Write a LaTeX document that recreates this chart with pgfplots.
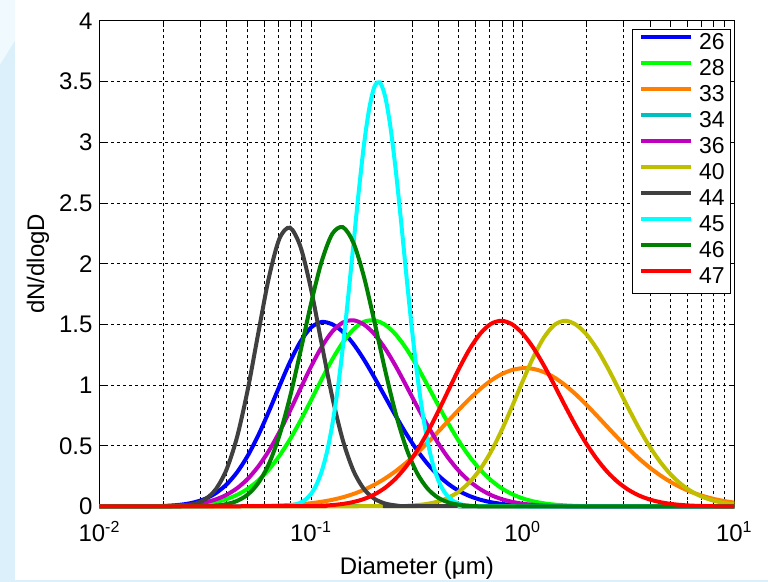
\documentclass[border=0pt]{standalone}
\usepackage{fontspec}
\setmainfont{Liberation Sans}
\usepackage{pgfplots}
\pgfplotsset{compat=1.18}
\definecolor{bgblue}{RGB}{220,240,251}
\definecolor{bglight}{RGB}{240,249,254}
\definecolor{c26}{rgb}{0,0,1}
\definecolor{c28}{rgb}{0,1,0}
\definecolor{c33}{rgb}{1,0.5,0}
\definecolor{c34}{rgb}{0,0.75,0.75}
\definecolor{c36}{rgb}{0.75,0,0.75}
\definecolor{c40}{rgb}{0.75,0.75,0}
\definecolor{c44}{rgb}{0.25,0.25,0.25}
\definecolor{c45}{rgb}{0,1,1}
\definecolor{c46}{rgb}{0,0.5,0}
\definecolor{c47}{rgb}{1,0,0}
\begin{document}
\begin{tikzpicture}
\fill[bgblue] (-49.75pt,-37.75pt) rectangle (334.25pt,253.25pt);
\fill[bglight] (-49.75pt,253.25pt) -- (-42.25pt,253.25pt) -- (-42.25pt,233pt) -- (-49.75pt,221pt) -- cycle;
\fill[white] (-42.25pt,-36.75pt) rectangle (334.25pt,253.25pt);
\begin{axis}[
  scale only axis, width=317.4pt, height=242.75pt,
  xmode=log, xmin=0.01, xmax=10, ymin=0, ymax=4,
  xtick={0.01,0.1,1,10},
  xticklabels={{10\textsuperscript{-2}},{10\textsuperscript{-1}},{10\textsuperscript{0}},{10\textsuperscript{1}}},
  minor xtick={0.02,0.03,0.04,0.05,0.06,0.07,0.08,0.09,0.2,0.3,0.4,0.5,0.6,0.7,0.8,0.9,2,3,4,5,6,7,8,9},
  ytick={0,0.5,1,1.5,2,2.5,3,3.5,4},
  yticklabels={0,0.5,1,1.5,2,2.5,3,3.5,4},
  xmajorgrids, xminorgrids, ymajorgrids,
  grid style={black, line width=0.5pt, dash pattern=on 1.5pt off 1.5pt},
  major grid style={black, line width=0.5pt, dash pattern=on 1.5pt off 1.5pt},
  minor grid style={black, line width=0.5pt, dash pattern=on 1.5pt off 1.5pt},
  tick align=inside, major tick length=2.8pt, minor tick length=2.8pt,
  tick style={black, line width=0.5pt},
  axis line style={black, line width=0.5pt},
  every tick label/.append style={font=\fontsize{12}{14}\selectfont},
  xticklabel style={yshift=-4pt},
  label style={font=\fontsize{12}{14}\selectfont},
  xlabel={Diameter (μm)},
  ylabel={dN/dlogD},
  xlabel style={at={(axis description cs:0.5,-0.141)}, anchor=base},
  ylabel style={at={(axis description cs:-0.0874,0.5)}, anchor=base},
  clip=false,
  legend style={at={(0.8396,0.983)}, anchor=north west, draw=black, line width=0.5pt, fill=white,
    font=\fontsize{11.5}{13}\selectfont, inner xsep=3pt, inner ysep=1pt, row sep=0pt, column sep=3.3pt,
    nodes={inner sep=0pt, text height=9pt, text depth=4pt}},
  legend cell align=left,
  legend image code/.code={\draw[#1, line width=2pt] (0pt,4pt) -- (24.8pt,4pt);},
  every axis plot/.append style={line width=2pt},
]
\addplot[c26, smooth] coordinates {(0.01,0) (0.01778,0.0019) (0.01995,0.0043) (0.02239,0.0091) (0.02512,0.0183) (0.02818,0.0351) (0.03162,0.0638) (0.03548,0.1102) (0.03981,0.1806) (0.04467,0.2815) (0.05012,0.4166) (0.05623,0.585) (0.06310,0.781) (0.07079,0.989) (0.07943,1.190) (0.08913,1.359) (0.1,1.475) (0.1122,1.520) (0.1259,1.501) (0.1413,1.439) (0.1585,1.339) (0.1778,1.210) (0.1995,1.061) (0.2239,0.903) (0.2512,0.746) (0.2818,0.598) (0.3162,0.466) (0.3548,0.352) (0.3981,0.258) (0.4467,0.184) (0.5012,0.127) (0.5623,0.0853) (0.6310,0.0556) (0.7079,0.0351) (0.7943,0.0216) (0.8913,0.0128) (1,0.0074) (1.122,0.0042) (1.259,0.0023) (10,0)};
\addlegendentry{26}
\addplot[c28, smooth] coordinates {(0.01,0) (0.01995,0.0019) (0.02239,0.0038) (0.02512,0.0070) (0.02818,0.0127) (0.03162,0.0222) (0.03548,0.0374) (0.03981,0.0608) (0.04467,0.0958) (0.05012,0.1457) (0.05623,0.214) (0.06310,0.304) (0.07079,0.417) (0.07943,0.552) (0.08913,0.708) (0.1,0.876) (0.1122,1.048) (0.1259,1.211) (0.1413,1.352) (0.1585,1.459) (0.1778,1.522) (0.1995,1.533) (0.2239,1.497) (0.2512,1.417) (0.2818,1.301) (0.3162,1.158) (0.3548,1.000) (0.3981,0.837) (0.4467,0.679) (0.5012,0.534) (0.5623,0.408) (0.6310,0.302) (0.7079,0.217) (0.7943,0.1508) (0.8913,0.1017) (1,0.0665) (1.122,0.0422) (1.259,0.0260) (1.413,0.0155) (1.585,0.0090) (1.778,0.0050) (1.995,0.0027) (10,0)};
\addlegendentry{28}
\addplot[c33, smooth] coordinates {(0.01,0) (0.05012,0.0021) (0.05623,0.0034) (0.06310,0.0054) (0.07079,0.0083) (0.07943,0.0126) (0.08913,0.0187) (0.1,0.0273) (0.1122,0.0391) (0.1259,0.0550) (0.1413,0.0760) (0.1585,0.1032) (0.1778,0.1375) (0.1995,0.1799) (0.2239,0.2311) (0.2512,0.2916) (0.2818,0.3612) (0.3162,0.4394) (0.3548,0.5246) (0.3981,0.6151) (0.4467,0.7082) (0.5012,0.8007) (0.5623,0.8889) (0.6310,0.9689) (0.7079,1.0371) (0.7943,1.0898) (0.8913,1.1246) (1,1.1395) (1.122,1.1337) (1.259,1.1075) (1.413,1.0623) (1.585,1.0006) (1.778,0.9253) (1.995,0.8403) (2.239,0.7492) (2.512,0.6560) (2.818,0.5638) (3.162,0.4761) (3.548,0.3946) (3.981,0.3211) (4.467,0.2566) (5.012,0.2013) (5.623,0.1551) (6.310,0.1174) (7.079,0.0872) (7.943,0.0636) (8.913,0.0455) (10,0.0320)};
\addlegendentry{33}
\addplot[c34] coordinates {(0.01,0) (10,0)};
\addlegendentry{34}
\addplot[c36, smooth] coordinates {(0.01,0) (0.01995,0.0028) (0.02239,0.0055) (0.02512,0.0105) (0.02818,0.0194) (0.03162,0.0344) (0.03548,0.0585) (0.03981,0.0957) (0.04467,0.1502) (0.05012,0.2266) (0.05623,0.3285) (0.06310,0.4574) (0.07079,0.6122) (0.07943,0.7868) (0.08913,0.972) (0.1,1.153) (0.1122,1.315) (0.1259,1.441) (0.1413,1.516) (0.1585,1.534) (0.1778,1.499) (0.1995,1.419) (0.2239,1.301) (0.2512,1.156) (0.2818,0.994) (0.3162,0.828) (0.3548,0.669) (0.3981,0.523) (0.4467,0.396) (0.5012,0.290) (0.5623,0.206) (0.6310,0.1419) (0.7079,0.0946) (0.7943,0.0611) (0.8913,0.0382) (1,0.0231) (1.122,0.0136) (1.259,0.0077) (1.413,0.0043) (1.585,0.0023) (10,0)};
\addlegendentry{36}
\addplot[c40, smooth] coordinates {(0.01,0) (0.2512,0.0024) (0.2818,0.0053) (0.3162,0.0111) (0.3548,0.0219) (0.3981,0.0411) (0.4467,0.0735) (0.5012,0.1248) (0.5623,0.2015) (0.6310,0.3092) (0.7079,0.451) (0.7943,0.625) (0.8913,0.824) (1,1.032) (1.122,1.229) (1.259,1.391) (1.413,1.496) (1.585,1.530) (1.778,1.500) (1.995,1.421) (2.239,1.300) (2.512,1.148) (2.818,0.980) (3.162,0.808) (3.548,0.643) (3.981,0.494) (4.467,0.367) (5.012,0.263) (5.623,0.182) (6.310,0.1217) (7.079,0.0786) (7.943,0.0490) (8.913,0.0295) (10,0.0172)};
\addlegendentry{40}
\addplot[c44, smooth] coordinates {(0.01,0) (0.02239,0.0021) (0.02512,0.0073) (0.02818,0.0221) (0.03162,0.0595) (0.03548,0.1424) (0.03981,0.3027) (0.04467,0.5713) (0.05012,0.957) (0.05623,1.424) (0.06310,1.881) (0.07079,2.205) (0.07943,2.297) (0.08913,2.139) (0.1,1.787) (0.1122,1.340) (0.1259,0.902) (0.1413,0.545) (0.1585,0.295) (0.1778,0.1436) (0.1995,0.0627) (0.2239,0.0246) (0.2512,0.0086) (0.2818,0.0027) (10,0)};
\addlegendentry{44}
\addplot[c45, smooth] coordinates {(0.01,0) (0.07499,0.0038) (0.07943,0.0081) (0.08414,0.0164) (0.08913,0.0318) (0.09441,0.0589) (0.1,0.1045) (0.1059,0.1776) (0.1122,0.2891) (0.1189,0.4505) (0.1259,0.672) (0.1334,0.960) (0.1413,1.314) (0.1496,1.721) (0.1585,2.158) (0.1679,2.592) (0.1778,2.981) (0.1884,3.282) (0.1995,3.461) (0.2113,3.494) (0.2239,3.378) (0.2371,3.127) (0.2512,2.771) (0.2661,2.352) (0.2818,1.911) (0.2985,1.487) (0.3162,1.108) (0.3350,0.791) (0.3548,0.540) (0.3758,0.353) (0.3981,0.2212) (0.4217,0.1327) (0.4467,0.0762) (0.4732,0.0419) (0.5012,0.0221) (0.5309,0.0111) (0.5623,0.0054) (0.5957,0.0025) (10,0)};
\addlegendentry{45}
\addplot[c46, smooth] coordinates {(0.01,0) (0.03162,0.0029) (0.03548,0.0078) (0.03981,0.0197) (0.04467,0.0457) (0.05012,0.0977) (0.05623,0.1924) (0.06310,0.349) (0.07079,0.584) (0.07943,0.900) (0.08913,1.279) (0.1,1.674) (0.1122,2.019) (0.1259,2.246) (0.1413,2.301) (0.1585,2.173) (0.1778,1.892) (0.1995,1.518) (0.2239,1.122) (0.2512,0.765) (0.2818,0.480) (0.3162,0.278) (0.3548,0.1482) (0.3981,0.0728) (0.4467,0.0330) (0.5012,0.0138) (0.5623,0.0053) (0.6310,0.0019) (10,0)};
\addlegendentry{46}
\addplot[c47, smooth] coordinates {(0.01,0) (0.1,0.0032) (0.1122,0.0062) (0.1259,0.0117) (0.1413,0.0212) (0.1585,0.0369) (0.1778,0.0618) (0.1995,0.0996) (0.2239,0.1545) (0.2512,0.2307) (0.2818,0.3314) (0.3162,0.4582) (0.3548,0.6094) (0.3981,0.780) (0.4467,0.961) (0.5012,1.139) (0.5623,1.299) (0.6310,1.425) (0.7079,1.505) (0.7943,1.530) (0.8913,1.501) (1,1.424) (1.122,1.308) (1.259,1.162) (1.413,0.999) (1.585,0.830) (1.778,0.668) (1.995,0.520) (2.239,0.392) (2.512,0.285) (2.818,0.201) (3.162,0.1371) (3.548,0.0904) (3.981,0.0577) (4.467,0.0357) (5.012,0.0213) (5.623,0.0123) (6.310,0.0069) (7.079,0.0037) (7.943,0.0020) (10,0)};
\addlegendentry{47}
\end{axis}
\pgfresetboundingbox
\path (-49.75pt,-37.75pt) rectangle (334.25pt,253.25pt);
\end{tikzpicture}
\end{document}
